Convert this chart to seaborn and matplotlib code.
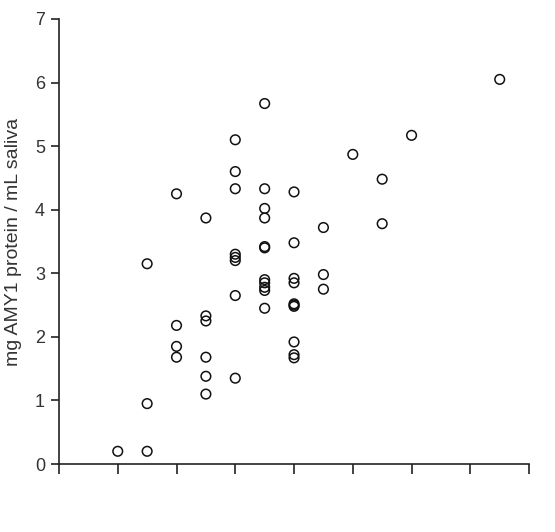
import numpy as np
import pandas as pd
import matplotlib
import seaborn as sns

matplotlib.use("Agg")
from matplotlib import pyplot as plt

# copy-number groups (x) and AMY1 protein values (y)
x_1 = [1.0]
y_1 = [0.2]
x_15 = [1.5] * 3
y_15 = [0.2, 0.95, 3.15]
x_2 = [2.0] * 4
y_2 = [4.25, 2.18, 1.85, 1.68]
x_25 = [2.5] * 6
y_25 = [3.87, 2.33, 2.25, 1.68, 1.38, 1.1]
x_3 = [3.0] * 8
y_3 = [5.1, 4.6, 4.33, 3.3, 3.25, 3.2, 2.65, 1.35]
x_35 = [3.5] * 11
y_35 = [5.67, 4.33, 4.02, 3.87, 3.42, 3.4, 2.9, 2.85, 2.78, 2.73, 2.45]
x_4 = [4.0] * 10
y_4 = [4.28, 3.48, 2.92, 2.85, 2.52, 2.5, 2.48, 1.92, 1.72, 1.67]
x_45 = [4.5] * 3
y_45 = [3.72, 2.98, 2.75]
x_rest = [5.0, 5.5, 5.5, 6.0, 7.5]
y_rest = [4.87, 4.48, 3.78, 5.17, 6.05]

x_ticks = [0, 1, 2, 3, 4, 5, 6, 7, 8]
y_ticks = [0, 1, 2, 3, 4, 5, 6, 7]

df = pd.DataFrame(
    {
        "copies": x_1 + x_15 + x_2 + x_25 + x_3 + x_35 + x_4 + x_45 + x_rest,
        "protein": y_1 + y_15 + y_2 + y_25 + y_3 + y_35 + y_4 + y_45 + y_rest,
    }
)

sns.set_theme(style="ticks")
plt.rcParams["font.family"] = ["Liberation Sans", "DejaVu Sans"]

fig = plt.figure(figsize=(5.55, 5.32), dpi=100)
ax = fig.add_axes([0.1063, 0.1278, 0.847, 0.8365])

sns.scatterplot(
    data=df,
    x="copies",
    y="protein",
    marker="o",
    s=48,
    facecolor="none",
    edgecolor="#111111",
    linewidth=1.1,
    ax=ax,
)

ax.set_xlim(0, 8)
ax.set_ylim(0, 7)
ax.set_xticks(x_ticks)
ax.set_xticklabels([])
ax.set_yticks(y_ticks)
ax.tick_params(axis="x", direction="out", length=7, width=1.2, color="#222222")
ax.tick_params(axis="y", direction="out", length=6, width=1.2, color="#222222",
               labelsize=13, labelcolor="#333333", pad=4)
for side in ["top", "right"]:
    ax.spines[side].set_visible(False)
for side in ["left", "bottom"]:
    ax.spines[side].set_linewidth(1.2)
    ax.spines[side].set_color("#222222")

ax.set_xlabel("")
ax.set_ylabel("mg AMY1 protein / mL saliva", fontsize=14, color="#333333", labelpad=9)

fig.savefig("out.png", dpi=100)
plt.close(fig)
